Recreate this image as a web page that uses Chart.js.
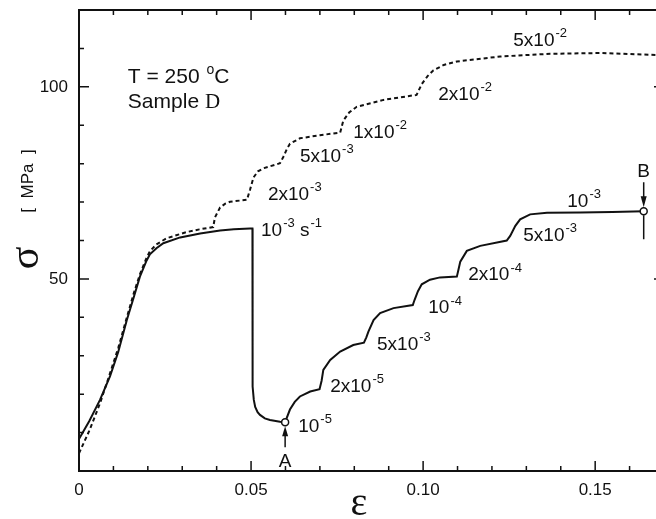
<!DOCTYPE html>
<html>
<head>
<meta charset="utf-8">
<script src="https://cdn.jsdelivr.net/npm/chart.js@4"></script>
<style>
  html, body { margin: 0; padding: 0; background: #fff; overflow: hidden; }
  #wrap { width: 656px; height: 519px; overflow: hidden; }
</style>
</head>
<body>
<div id="wrap"><canvas id="chart" width="666" height="519"></canvas></div>
<script>
// strain (ε) / stress (σ, MPa)
const solidX = [0, 0.003, 0.0061, 0.009, 0.0114, 0.0139, 0.016, 0.0177, 0.0195, 0.0206, 0.0225, 0.0245, 0.0294, 0.0352, 0.041, 0.045, 0.0497, 0.0504,
  0.0504, 0.0505, 0.0508, 0.0512, 0.0519, 0.0526, 0.054, 0.0555, 0.0584, 0.0599,
  0.0613, 0.0627, 0.0642, 0.0672, 0.0699, 0.0705, 0.071, 0.073, 0.0759, 0.0797, 0.0828,
  0.0835, 0.0841, 0.0856, 0.0875, 0.0914, 0.097, 0.0975, 0.0985, 0.0996, 0.102, 0.1049, 0.1098,
  0.1103, 0.1108, 0.1127, 0.1166, 0.1243, 0.1253, 0.1268, 0.1282, 0.1311, 0.136, 0.1456, 0.155, 0.1641];
const solidY = [8.3, 13.0, 18.5, 24.6, 31.0, 39.3, 45.5, 50.6, 54.5, 56.4, 58.0, 59.3, 60.8, 61.8, 62.6, 62.9, 63.1, 63.1,
  40, 22, 18.5, 16.7, 15.3, 14.6, 13.7, 13.3, 12.8, 12.7,
  16.0, 18.0, 19.4, 20.7, 21.3, 23.5, 26.3, 28.9, 31.1, 32.8, 33.4,
  34.8, 36.3, 39.3, 41.1, 42.4, 43.2, 44.5, 46.8, 48.6, 49.8, 50.4, 50.6,
  52.5, 54.5, 57.3, 58.6, 60.0, 61.2, 63.8, 65.5, 66.8, 67.2, 67.3, 67.4, 67.6];

const dottedX = [0, 0.003, 0.0061, 0.009, 0.0114, 0.0139, 0.016, 0.0177, 0.0195, 0.0206, 0.0225, 0.0255, 0.0313, 0.035, 0.039,
  0.0395, 0.041, 0.0425, 0.0439, 0.0488, 0.0497, 0.0507, 0.052, 0.0536, 0.0584, 0.0594, 0.0604, 0.0613, 0.0642, 0.07, 0.0759,
  0.0768, 0.0785, 0.0807, 0.0885, 0.0981, 0.0996, 0.1013, 0.103, 0.106, 0.1098, 0.1224, 0.1369, 0.1515, 0.1677, 0.17];
const dottedY = [4.6, 10.5, 17.6, 25.4, 32.0, 40.0, 46.5, 51.2, 55.2, 57.2, 59.0, 60.6, 62.2, 62.9, 63.5,
  66.0, 68.6, 69.6, 70.1, 70.6, 73.2, 76.4, 78.0, 78.8, 80.1, 81.8, 83.8, 85.2, 86.6, 87.4, 88.1,
  91.2, 93.3, 94.8, 96.6, 97.9, 100.7, 102.8, 104.3, 105.7, 106.6, 107.9, 108.6, 108.8, 108.3, 108.2];

const pointA = { x: 0.0599, y: 12.7 };
const pointB = { x: 0.1641, y: 67.6 };

const xTicks = [0, 0.05, 0.10, 0.15];
const yTicks = [50, 100];
const xMinor = [0.01, 0.02, 0.03, 0.04, 0.06, 0.07, 0.08, 0.09, 0.11, 0.12, 0.13, 0.14, 0.16];
const yMinor = [10, 20, 30, 40, 60, 70, 80, 90, 110];

// labels: [x, y, segments, size]  segment = [text, kind]  kind 0 normal, 1 superscript, 2 serif
const rateLabels = [
  [0.0142, 101.0, [['T = 250 ', 0], ['o', 1], ['C', 0]], 21],
  [0.0142, 94.5, [['Sample ', 0], ['D', 2]], 21],
  [0.1262, 110.7, [['5x10', 0], ['-2', 1]], 19],
  [0.1044, 96.6, [['2x10', 0], ['-2', 1]], 19],
  [0.0797, 86.7, [['1x10', 0], ['-2', 1]], 19],
  [0.0642, 80.5, [['5x10', 0], ['-3', 1]], 19],
  [0.0549, 70.6, [['2x10', 0], ['-3', 1]], 19],
  [0.0529, 61.2, [['10', 0], ['-3', 1], [' s', 0], ['-1', 1]], 19],
  [0.0637, 10.2, [['10', 0], ['-5', 1]], 19],
  [0.0730, 20.6, [['2x10', 0], ['-5', 1]], 19],
  [0.0866, 31.5, [['5x10', 0], ['-3', 1]], 19],
  [0.1015, 41.1, [['10', 0], ['-4', 1]], 19],
  [0.1131, 49.7, [['2x10', 0], ['-4', 1]], 19],
  [0.1291, 59.9, [['5x10', 0], ['-3', 1]], 19],
  [0.1419, 68.75, [['10', 0], ['-3', 1]], 19]
];

const SANS = '"Liberation Sans", Arial, sans-serif';
const SERIF = '"Liberation Serif", "Times New Roman", serif';
const INK = '#111';

function toPts(xs, ys) { return xs.map((x, i) => ({ x: x, y: ys[i] })); }

const framePlugin = {
  id: 'frame',
  afterDatasetsDraw(chart) {
    const c = chart.ctx, a = chart.chartArea;
    const sx = chart.scales.x, sy = chart.scales.y;
    c.save();
    c.strokeStyle = INK;
    c.fillStyle = INK;
    c.lineWidth = 2;
    c.strokeRect(a.left, a.top, a.right - a.left, a.bottom - a.top);

    c.lineWidth = 1.5;
    c.beginPath();
    const tick = (vals, len, horiz) => {
      vals.forEach(v => {
        if (horiz) {
          const px = sx.getPixelForValue(v);
          c.moveTo(px, a.bottom); c.lineTo(px, a.bottom - len);
          c.moveTo(px, a.top); c.lineTo(px, a.top + len);
        } else {
          const py = sy.getPixelForValue(v);
          c.moveTo(a.left, py); c.lineTo(a.left + len, py);
          c.moveTo(a.right, py); c.lineTo(a.right - len, py);
        }
      });
    };
    tick(xTicks.filter(v => v > 0), 10, true);
    tick(xMinor, 5, true);
    tick(yTicks, 10, false);
    tick(yMinor, 5, false);
    c.stroke();

    // rate labels
    c.textBaseline = 'alphabetic';
    c.textAlign = 'left';
    rateLabels.forEach(([lx, ly, segs, size]) => {
      let px = sx.getPixelForValue(lx);
      const py = sy.getPixelForValue(ly);
      segs.forEach(([t, kind]) => {
        if (kind === 1) {
          c.font = Math.round(size * 0.68) + 'px ' + SANS;
          c.fillText(t, px + 1, py - size * 0.45);
          px += c.measureText(t).width + 1;
        } else {
          c.font = size + 'px ' + (kind === 2 ? SERIF : SANS);
          c.fillText(t, px, py);
          px += c.measureText(t).width;
        }
      });
    });

    // A marker arrow
    const ax = sx.getPixelForValue(pointA.x), ay = sy.getPixelForValue(pointA.y);
    c.lineWidth = 1.5;
    c.beginPath();
    c.moveTo(ax, ay + 25); c.lineTo(ax, ay + 12);
    c.stroke();
    c.beginPath();
    c.moveTo(ax, ay + 4); c.lineTo(ax - 3, ay + 14); c.lineTo(ax + 3, ay + 14); c.closePath();
    c.fill();
    c.font = '19px ' + SANS;
    c.textAlign = 'center';
    c.fillText('A', ax, ay + 45);

    // B marker arrow
    const bx = sx.getPixelForValue(pointB.x), by = sy.getPixelForValue(pointB.y);
    c.beginPath();
    c.moveTo(bx, by - 29); c.lineTo(bx, by - 14);
    c.moveTo(bx, by + 4); c.lineTo(bx, by + 28);
    c.stroke();
    c.beginPath();
    c.moveTo(bx, by - 4); c.lineTo(bx - 3, by - 15); c.lineTo(bx + 3, by - 15); c.closePath();
    c.fill();
    c.fillText('B', bx, by - 34);

    // axis titles
    c.font = '40px ' + SERIF;
    c.textAlign = 'center';
    c.fillText('ε', 359, 515);

    c.save();
    c.translate(27, 258);
    c.rotate(-Math.PI / 2);
    c.textBaseline = 'middle';
    c.font = '42px ' + SERIF;
    c.fillText('σ', 0, 0);
    c.restore();

    c.save();
    c.translate(28, 181);
    c.rotate(-Math.PI / 2);
    c.textBaseline = 'middle';
    c.font = '17px ' + SANS;
    c.fillText('[  MPa  ]', 0, 0);
    c.restore();

    c.restore();
  }
};

new Chart(document.getElementById('chart'), {
  type: 'scatter',
  data: {
    datasets: [
      { data: [pointA, pointB], pointRadius: 3.5, pointBackgroundColor: '#fff', pointBorderColor: INK, pointBorderWidth: 1.5, showLine: false },
      { data: toPts(solidX, solidY), showLine: true, borderColor: INK, borderWidth: 2, pointRadius: 0, tension: 0 },
      { data: toPts(dottedX, dottedY), showLine: true, borderColor: INK, borderWidth: 2, borderDash: [4, 3], pointRadius: 0, tension: 0 }
    ]
  },
  plugins: [framePlugin],
  options: {
    responsive: false,
    animation: false,
    layout: { autoPadding: false, padding: { left: 0, right: 2, top: 10, bottom: 0 } },
    plugins: { legend: { display: false }, tooltip: { enabled: false } },
    scales: {
      x: {
        type: 'linear', min: 0, max: 0.17,
        grid: { display: false, drawTicks: false },
        border: { display: false },
        afterBuildTicks: s => { s.ticks = xTicks.map(v => ({ value: v })); },
        afterFit: s => { s.height = 48; s.paddingLeft = 0; s.paddingRight = 0; },
        ticks: {
          padding: 9, color: INK, font: { family: SANS, size: 17 },
          callback: v => v === 0 ? '0' : v.toFixed(2)
        }
      },
      y: {
        type: 'linear', min: 0, max: 120,
        grid: { display: false, drawTicks: false },
        border: { display: false },
        afterBuildTicks: s => { s.ticks = yTicks.map(v => ({ value: v })); },
        afterFit: s => { s.width = 79; s.paddingTop = 0; s.paddingBottom = 0; },
        ticks: {
          padding: 11, color: INK, font: { family: SANS, size: 17 },
          callback: v => String(v)
        }
      }
    }
  }
});
</script>
</body>
</html>
